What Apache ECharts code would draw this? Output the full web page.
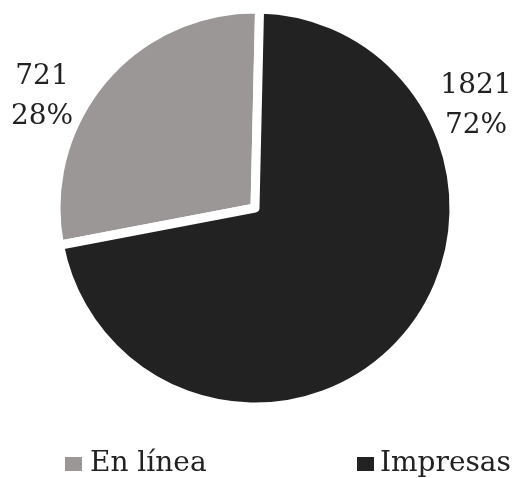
<!DOCTYPE html>
<html>
<head>
<meta charset="utf-8">
<script src="https://cdn.jsdelivr.net/npm/echarts@6/dist/echarts.min.js"></script>
<style>
html,body{margin:0;padding:0;background:#fff;}
#chart{width:515px;height:478px;}
</style>
</head>
<body>
<div id="chart"></div>
<script>
const categories = ['En línea', 'Impresas'];
const values = [721, 1821];
const colors = ['#9a9796', '#222222'];
const labelSpots = [[42, 97], [476, 106]];
const legendLefts = [58, 350];

const chart = echarts.init(document.getElementById('chart'), null, {renderer: 'canvas'});
const FONT = '"DejaVu Serif", "Liberation Serif", serif';
chart.setOption({
  animation: false,
  backgroundColor: '#ffffff',
  legend: categories.map((c, i) => ({
    data: [c],
    left: legendLefts[i],
    top: 445,
    itemWidth: 19,
    itemHeight: 16,
    icon: 'rect',
    selectedMode: false,
    textStyle: {fontFamily: FONT, fontSize: 28, color: '#222222', padding: [0, 0, 0, i === 0 ? 2 : 0]}
  })),
  series: [{
    type: 'pie',
    center: [255, 208],
    radius: 199,
    startAngle: 190.8,
    clockwise: true,
    percentPrecision: 0,
    itemStyle: {borderColor: '#ffffff', borderWidth: 9},
    label: {
      show: true,
      formatter: '{c}\n{d}%',
      fontFamily: FONT,
      fontSize: 28,
      lineHeight: 40,
      color: '#222222',
      align: 'center',
      overflow: 'none',
      width: 120
    },
    labelLine: {show: false},
    labelLayout: function (p) {
      const s = labelSpots[p.dataIndex];
      return {x: s[0], y: s[1], align: 'center', verticalAlign: 'middle'};
    },
    emphasis: {disabled: true},
    data: categories.map((c, i) => ({name: c, value: values[i], itemStyle: {color: colors[i]}}))
  }]
});
</script>
</body>
</html>
